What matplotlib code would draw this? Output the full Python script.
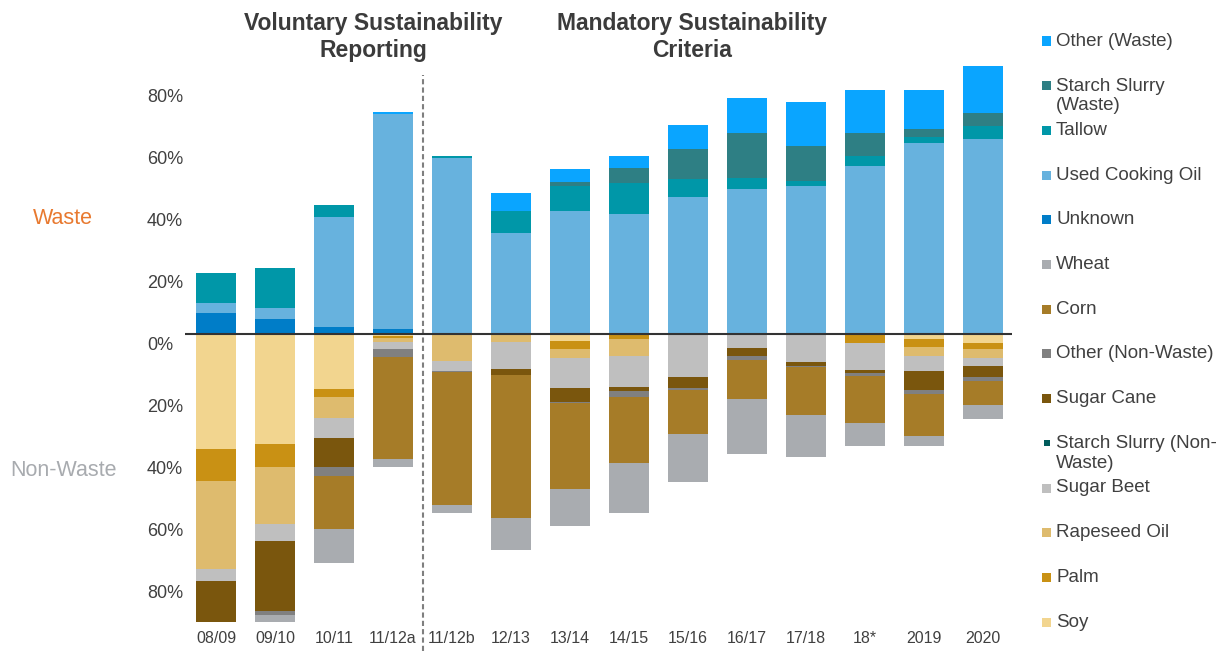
import matplotlib
matplotlib.use('Agg')
import matplotlib.pyplot as plt
import matplotlib.transforms as mtransforms
from matplotlib.patches import Rectangle
import numpy as np

plt.rcParams['font.family'] = ['Liberation Sans', 'DejaVu Sans']

# Periodos del eje x
periods = ['08/09', '09/10', '10/11', '11/12a', '11/12b', '12/13', '13/14',
           '14/15', '15/16', '16/17', '17/18', '18*', '2019', '2020']

# Materias primas residuales (parte superior), en %
unknown = [6.9, 4.8, 2.2, 1.6, 0, 0, 0, 0, 0, 0, 0, 0, 0, 0]
used_cooking_oil = [3.0, 3.6, 35.4, 69.3, 56.7, 32.5, 39.8, 38.7, 44.3, 46.7, 47.7, 54.2, 61.5, 62.8]
tallow = [9.9, 13.0, 3.9, 0, 0.8, 7.2, 8.0, 9.9, 5.6, 3.5, 1.7, 3.3, 2.1, 4.3]
starch_slurry_waste = [0, 0, 0, 0, 0, 0, 1.3, 5.0, 9.7, 14.5, 11.2, 7.5, 2.6, 4.3]
other_waste = [0, 0, 0, 0.8, 0, 5.9, 4.2, 3.8, 7.8, 11.3, 14.3, 13.6, 12.5, 15.2]

# Materias primas no residuales (parte inferior), en %
soy = [37.1, 35.6, 17.7, 0.6, 0, 0, 2.2, 0, 0, 0, 0, 0, 1.6, 3.0]
palm = [10.2, 7.2, 2.5, 0.6, 0, 0, 2.5, 1.7, 0, 0, 0, 3.0, 2.7, 1.8]
rapeseed_oil = [28.6, 18.5, 7.0, 1.5, 8.7, 2.5, 2.9, 5.4, 0, 0, 0, 0, 2.7, 3.0]
sugar_beet = [3.8, 5.5, 6.3, 2.1, 3.1, 8.9, 9.7, 10.1, 14.0, 4.5, 8.9, 8.5, 4.8, 2.4]
starch_slurry_nonwaste = [0, 0, 0, 0, 0, 0, 0, 0, 0, 0, 0, 0, 0, 0]
sugar_cane = [13.1, 22.5, 9.4, 0, 0, 1.8, 4.6, 1.2, 3.5, 2.5, 1.5, 1.0, 6.2, 3.7]
other_nonwaste = [0, 1.4, 3.0, 2.5, 0.4, 0, 0.4, 1.8, 0.5, 1.4, 0.4, 1.1, 1.3, 1.4]
corn = [0, 0, 16.9, 33.0, 43.1, 46.0, 27.8, 21.5, 14.3, 12.6, 15.2, 15.1, 13.6, 7.7]
wheat = [0, 2.2, 11.0, 2.7, 2.5, 10.4, 11.7, 15.9, 15.5, 17.7, 13.7, 7.5, 3.2, 4.5]

ytick_values = [80, 60, 40, 20, 0, -20, -40, -60, -80]
ytick_labels = ['80%', '60%', '40%', '20%', '0%', '20%', '40%', '60%', '80%']

# (etiqueta de leyenda, valores, color) en orden de apilado desde el cero
waste = [
    ('Unknown', unknown, '#007DC8'),
    ('Used Cooking Oil', used_cooking_oil, '#67B2DE'),
    ('Tallow', tallow, '#0097A8'),
    ('Starch Slurry\n(Waste)', starch_slurry_waste, '#2E7F84'),
    ('Other (Waste)', other_waste, '#0AA5FF'),
]
non_waste = [
    ('Soy', soy, '#F2D58F'),
    ('Palm', palm, '#C99114'),
    ('Rapeseed Oil', rapeseed_oil, '#DEBB6E'),
    ('Sugar Beet', sugar_beet, '#BFBFBF'),
    ('Starch Slurry (Non-\nWaste)', starch_slurry_nonwaste, '#005C5C'),
    ('Sugar Cane', sugar_cane, '#7A560D'),
    ('Other (Non-Waste)', other_nonwaste, '#808080'),
    ('Corn', corn, '#A67C28'),
    ('Wheat', wheat, '#A9ACB0'),
]

W, H = 1227, 651
fig = plt.figure(figsize=(W / 100, H / 100), dpi=100)
ax = fig.add_axes([185 / W, 1 - 628.5 / H, 827 / W, 573.5 / H])

x = np.arange(len(periods))
bw = 0.68

base = np.zeros(len(periods))
for name, vals, col in waste:
    v = np.array(vals, dtype=float)
    ax.bar(x, v, bw, bottom=base, color=col, linewidth=0)
    base += v

base = np.zeros(len(periods))
for name, vals, col in non_waste:
    v = np.array(vals, dtype=float)
    ax.bar(x, -v, bw, bottom=-base, color=col, linewidth=0)
    base += v

ax.axhline(0, color='#333333', linewidth=1.5, zorder=3)
ax.set_xlim(-0.525, 13.49)
ax.set_ylim(-95, 90)

# linea divisoria entre periodos voluntario / obligatorio
trans = mtransforms.blended_transform_factory(ax.transData, ax.transAxes)
ax.plot([3.5, 3.5], [-0.04, 0.965], transform=trans, clip_on=False,
        color='#7F7F7F', linewidth=1.5, linestyle=(0, (2.5, 1.5)))

for s in ax.spines.values():
    s.set_visible(False)

ax.set_xticks(x, periods)
ax.tick_params(axis='x', length=0, pad=1.5, labelsize=11.5, labelcolor='#404040')

ax.set_yticks(ytick_values, ytick_labels)
ax.tick_params(axis='y', length=0, pad=27.4, labelsize=13, labelcolor='#404040')
off = mtransforms.ScaledTranslation(0, -9.5 / 100, fig.dpi_scale_trans)
for lab in ax.get_yticklabels():
    lab.set_horizontalalignment('left')
    lab.set_transform(lab.get_transform() + off)

fig.text(63 / W, 1 - 219 / H, 'Waste', color='#E8792F', fontsize=15.5, ha='center', va='center')
fig.text(63 / W, 1 - 471 / H, 'Non-Waste', color='#A8ABAF', fontsize=15.5, ha='center', va='center')

fig.text(373 / W, 1 - 37 / H, 'Voluntary Sustainability\nReporting', fontsize=16.5,
         fontweight='bold', color='#3B3B3B', ha='center', va='center', linespacing=1.22)
fig.text(692 / W, 1 - 37 / H, 'Mandatory Sustainability\nCriteria', fontsize=16.5,
         fontweight='bold', color='#3B3B3B', ha='center', va='center', linespacing=1.22)

# leyenda manual a la derecha
legend_items = waste[::-1] + non_waste[::-1]
for i, (name, vals, col) in enumerate(legend_items):
    yc = 41 + 44.7 * i
    sz = 6 if 'Non-\n' in name else 9
    fig.add_artist(Rectangle(((1046.5 - sz / 2) / W, 1 - (yc + sz / 2) / H), sz / W, sz / H,
                             transform=fig.transFigure, color=col, linewidth=0))
    if '\n' in name:
        fig.text(1056 / W, 1 - (yc - 8) / H, name, fontsize=13.5, color='#404040',
                 ha='left', va='top', linespacing=1.2)
    else:
        fig.text(1056 / W, 1 - yc / H, name, fontsize=13.5, color='#404040',
                 ha='left', va='center')

fig.savefig('out.png', dpi=100)
